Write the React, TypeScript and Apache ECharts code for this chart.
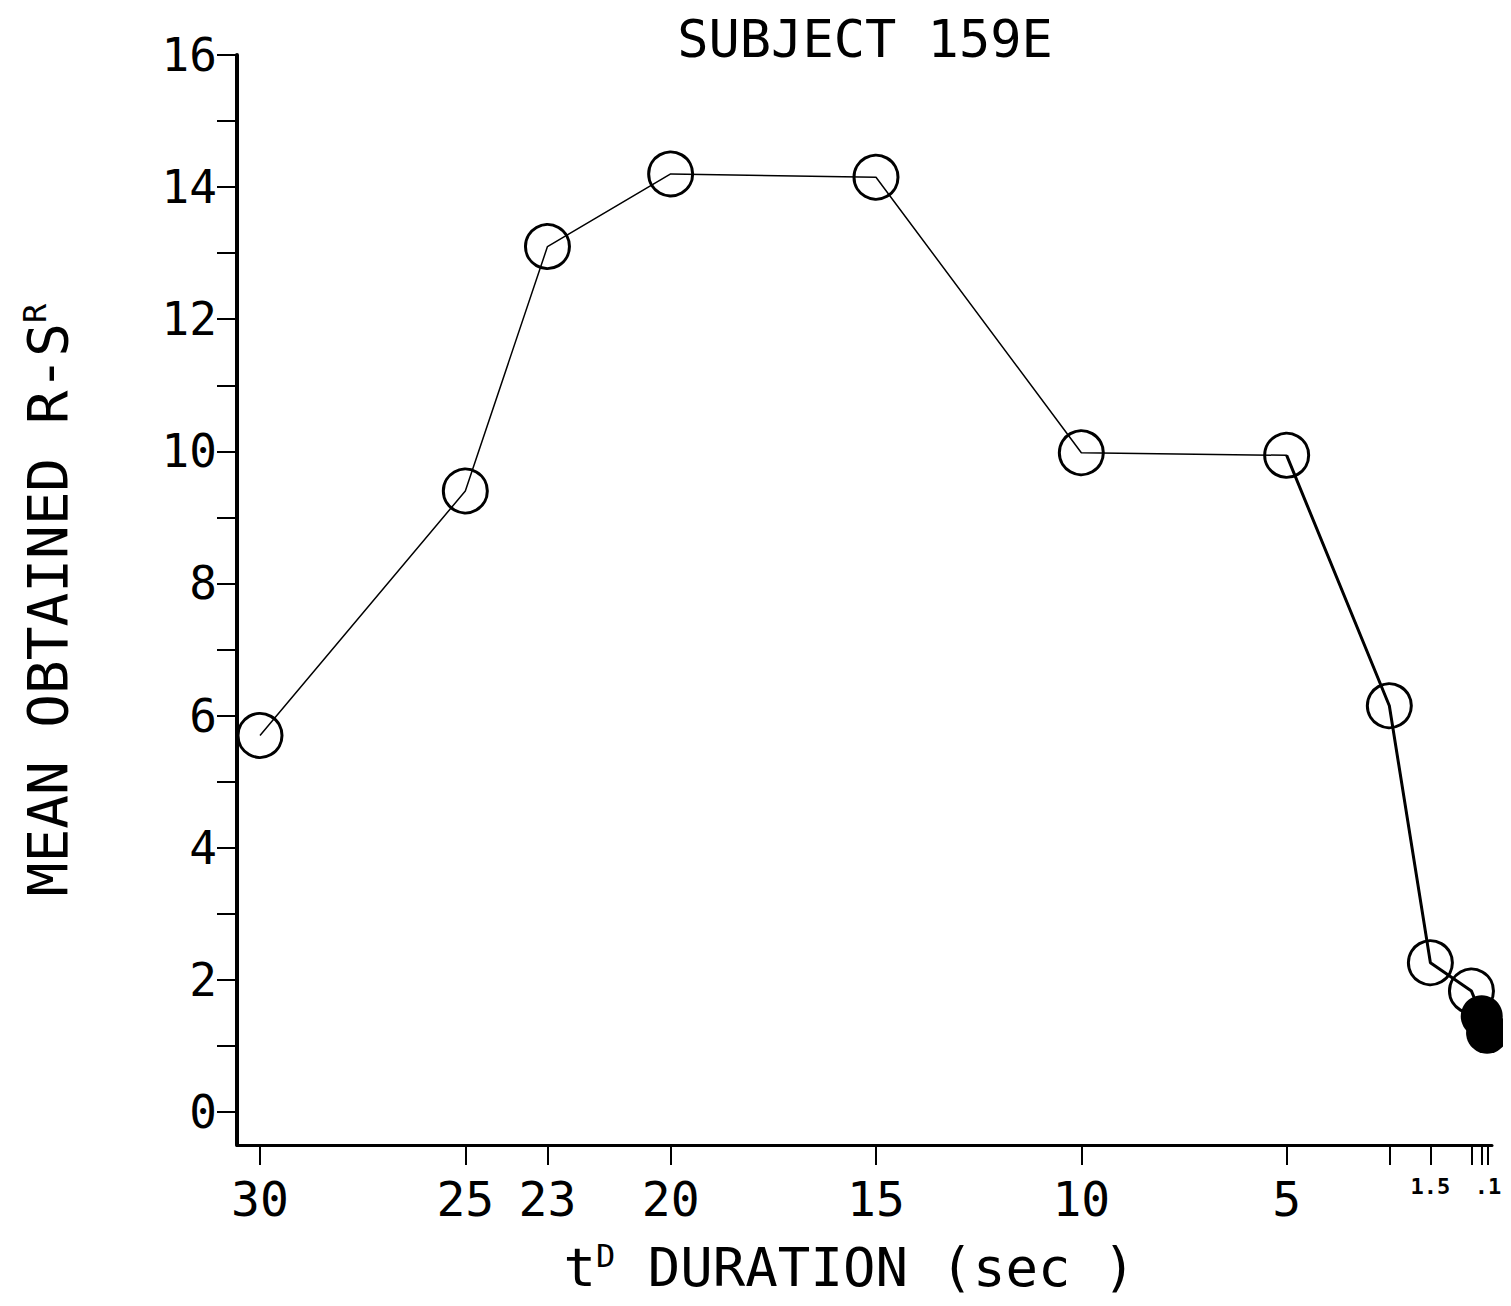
import React, { useEffect, useRef } from "react";
import * as echarts from "echarts";

// ---- data ----
const durations = [30, 25, 23, 20, 15, 10, 5, 2.5, 1.5, 0.5];
const meanRS = [5.7, 9.4, 13.1, 14.2, 14.15, 9.98, 9.94, 6.15, 2.26, 1.83];
const filledDurations = [0.25, 0.12];
const filledMeanRS = [1.45, 1.2];
const xTickValues = [30, 25, 23, 20, 15, 10, 5, 2.5, 1.5, 0.5, 0.25, 0.1];
const xLabelValues = [30, 25, 23, 20, 15, 10, 5, 1.5, 0.1];
const smallXLabels = [1.5, 0.1];
const yTickValues = [0, 1, 2, 3, 4, 5, 6, 7, 8, 9, 10, 11, 12, 13, 14, 15, 16];
const yLabelValues = [0, 2, 4, 6, 8, 10, 12, 14, 16];
const thickFromIndex = 6;

const MONO = "'DejaVu Sans Mono', 'Liberation Mono', monospace";

export default function App() {
  const ref = useRef<HTMLDivElement>(null);
  useEffect(() => {
    if (!ref.current) return;
    const chart = echarts.init(ref.current, null, { renderer: "svg" });
    const openPts = durations.map((d, i) => [d, meanRS[i]]);
    const filledPts = filledDurations.map((d, i) => [d, filledMeanRS[i]]);
    const thickPts = openPts.slice(thickFromIndex).concat(filledPts);
    chart.setOption({
      animation: false,
      backgroundColor: "#fff",
      title: {
        text: "SUBJECT 159E",
        left: 852,
        textAlign: "center",
        top: 0,
        textStyle: { fontFamily: MONO, fontSize: 52, fontWeight: "normal", color: "#000" },
      },
      grid: { left: 229, right: 11, top: 47, bottom: 153, containLabel: false, outerBoundsMode: "none" },
      xAxis: {
        type: "value",
        inverse: true,
        min: 0,
        max: 30.56,
        splitLine: { show: false },
        axisLine: { onZero: false, lineStyle: { color: "#000", width: 3 } },
        axisTick: { show: true, length: 20, customValues: xTickValues, lineStyle: { color: "#000", width: 2 } },
        axisLabel: {
          customValues: xLabelValues,
          margin: 30,
          color: "#000",
          fontFamily: MONO,
          fontSize: 48,
          hideOverlap: false,
          formatter: (v: number) =>
            smallXLabels.includes(v) ? `{s|${v === 0.1 ? ".1" : String(v)}}` : String(v),
          rich: { s: { fontSize: 22, fontWeight: "bold", fontFamily: MONO, color: "#000", padding: [0, 0, 24, 0] } },
        },
        name: "{t|t}{sup|D}{n| DURATION (sec )}",
        nameLocation: "middle",
        nameGap: 95,
        nameTextStyle: {
          rich: {
            t: { fontSize: 54, fontFamily: MONO, color: "#000" },
            sup: { fontSize: 32, fontFamily: MONO, color: "#000", verticalAlign: "top", padding: [0, 0, 22, 0] },
            n: { fontSize: 54, fontFamily: MONO, color: "#000", padding: [0, 30, 0, 0] },
          },
        },
      },
      yAxis: {
        type: "value",
        min: -0.5,
        max: 16,
        splitLine: { show: false },
        axisLine: { onZero: false, lineStyle: { color: "#000", width: 4 } },
        axisTick: { show: true, length: 20, customValues: yTickValues, lineStyle: { color: "#000", width: 2 } },
        axisLabel: {
          customValues: yLabelValues,
          margin: 20,
          color: "#000",
          fontFamily: MONO,
          fontSize: 46,
        },
        name: "{n|MEAN OBTAINED R-S}{sup|R}",
        nameLocation: "middle",
        nameRotate: 90,
        nameGap: 162,
        nameTextStyle: {
          rich: {
            n: { fontSize: 56, fontFamily: MONO, color: "#000" },
            sup: { fontSize: 32, fontFamily: MONO, color: "#000", verticalAlign: "top", padding: [0, 0, 24, 0] },
          },
        },
      },
      series: [
        {
          type: "line",
          data: openPts,
          symbol: "circle",
          symbolSize: 44,
          clip: false,
          lineStyle: { color: "#000", width: 1.5 },
          itemStyle: { color: "rgba(0,0,0,0)", borderColor: "#000", borderWidth: 3 },
          z: 3,
        },
        {
          type: "line",
          data: thickPts,
          showSymbol: false,
          symbol: "none",
          clip: false,
          lineStyle: { color: "#000", width: 3 },
          z: 2,
        },
        {
          type: "scatter",
          data: filledPts,
          symbol: "circle",
          symbolSize: 42,
          clip: false,
          itemStyle: { color: "#000", opacity: 1 },
          z: 4,
        },
      ],
    });
    return () => chart.dispose();
  }, []);
  return <div ref={ref} style={{ width: 1495, height: 1290 }} />;
}
